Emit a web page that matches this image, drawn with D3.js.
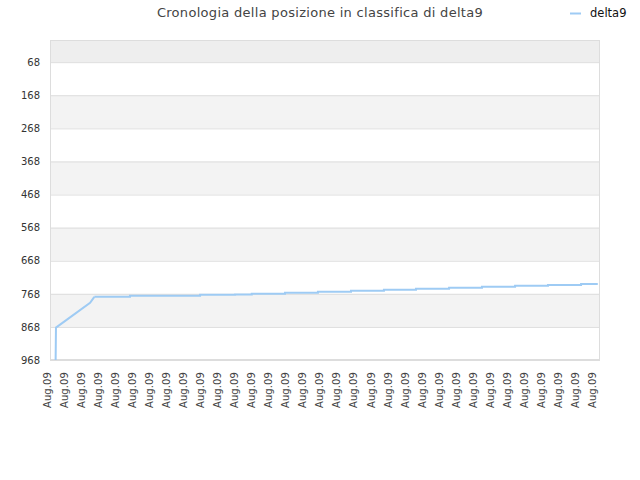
<!DOCTYPE html>
<html>
<head>
<meta charset="utf-8">
<script src="https://cdn.jsdelivr.net/npm/d3@7/dist/d3.min.js"></script>
<style>
  html, body { margin: 0; padding: 0; background: #fff; }
  svg { display: block; font-family: "DejaVu Sans", sans-serif; }
</style>
</head>
<body>
<svg id="chart" width="640" height="480"></svg>
<script>
// ---- data ----
const title = "Cronologia della posizione in classifica di delta9";
const seriesName = "delta9";
const xLabels = Array.from({length: 33}, () => "Aug.09");
const yTicks = [68, 168, 268, 368, 468, 568, 668, 768, 868, 968];
const yDomain = [1, 968];
// x positions measured in label-index units, rank values
const riseX    = [0.33, 0.35, 2.35, 2.6];
const riseRank = [968, 870, 795, 777];
const stepX    = [2.6, 4.69, 8.8, 10.85, 11.83, 13.78, 15.71, 17.65, 19.58, 21.46, 23.40, 25.33, 27.27, 29.20, 31.14, 32.12];
const stepRank = [777, 774, 771, 770, 768, 765, 762, 759, 756, 753, 750, 747, 744, 741, 738, 738];

// ---- layout ----
const svg = d3.select("#chart");
const L = 50, R = 600, T = 40, B = 360;
const lineColor = "#9ecbf4";

const x = d3.scaleLinear().domain([0, 32.25]).range([L, R]);
const y = d3.scaleLinear().domain(yDomain).range([T, B]);

// background bands
const bandEdges = [yDomain[0], ...yTicks];
const g = svg.append("g");
for (let i = 0; i < bandEdges.length - 1; i++) {
  const y0 = y(bandEdges[i]), y1 = y(bandEdges[i + 1]);
  let fill = (i % 2 === 0) ? "#f3f3f3" : "#ffffff";
  if (i === 0) fill = "#eeeeee";
  g.append("rect").attr("x", L).attr("y", y0).attr("width", R - L).attr("height", y1 - y0).attr("fill", fill);
}
// grid lines
g.selectAll("line.grid").data(yTicks).enter().append("line")
  .attr("x1", L).attr("x2", R).attr("y1", d => y(d) + 0.5).attr("y2", d => y(d) + 0.5)
  .attr("stroke", "#dddddd").attr("stroke-width", 1);
// border
g.append("rect").attr("x", L + 0.5).attr("y", T + 0.5).attr("width", R - L - 1).attr("height", B - T - 1)
  .attr("fill", "none").attr("stroke", "#dddddd");

// y axis labels
const yAxis = d3.axisLeft(y).tickValues(yTicks).tickSize(0).tickPadding(10);
const ya = svg.append("g").attr("transform", `translate(${L},0)`).call(yAxis);
ya.select(".domain").remove();
ya.selectAll("text").attr("fill", "#333").style("font-size", "10px").style("font-family", "DejaVu Sans, sans-serif");

// x axis labels
const xAxis = d3.axisBottom(x).tickValues(d3.range(xLabels.length)).tickFormat(i => xLabels[i]).tickSize(0);
const xa = svg.append("g").attr("transform", `translate(0,${B})`).call(xAxis);
xa.select(".domain").remove();
xa.selectAll("text")
  .attr("fill", "#444").style("font-size", "10px").style("font-family", "DejaVu Sans, sans-serif")
  .style("letter-spacing", "0.1px")
  .attr("text-anchor", "end")
  .attr("transform", "rotate(-90)")
  .attr("x", -12).attr("y", 0).attr("dy", "0");

// series line
const lineLin = d3.line().x(d => x(d[0])).y(d => y(d[1]));
const lineStep = d3.line().x(d => x(d[0])).y(d => y(d[1])).curve(d3.curveStepAfter);
svg.append("path").datum(riseX.map((v, i) => [v, riseRank[i]]))
  .attr("d", lineLin).attr("fill", "none").attr("stroke", lineColor).attr("stroke-width", 2);
svg.append("path").datum(stepX.map((v, i) => [v, stepRank[i]]))
  .attr("d", lineStep).attr("fill", "none").attr("stroke", lineColor).attr("stroke-width", 2);

// title
svg.append("text").attr("x", 320).attr("y", 17).attr("text-anchor", "middle")
  .attr("fill", "#444").style("font-size", "13px").style("letter-spacing", "0.3px").text(title);

// legend
svg.append("line").attr("x1", 570).attr("x2", 581).attr("y1", 13.5).attr("y2", 13.5)
  .attr("stroke", lineColor).attr("stroke-width", 2);
svg.append("text").attr("x", 590).attr("y", 17).attr("fill", "#111")
  .style("font-size", "11.5px").text(seriesName);
</script>
</body>
</html>
